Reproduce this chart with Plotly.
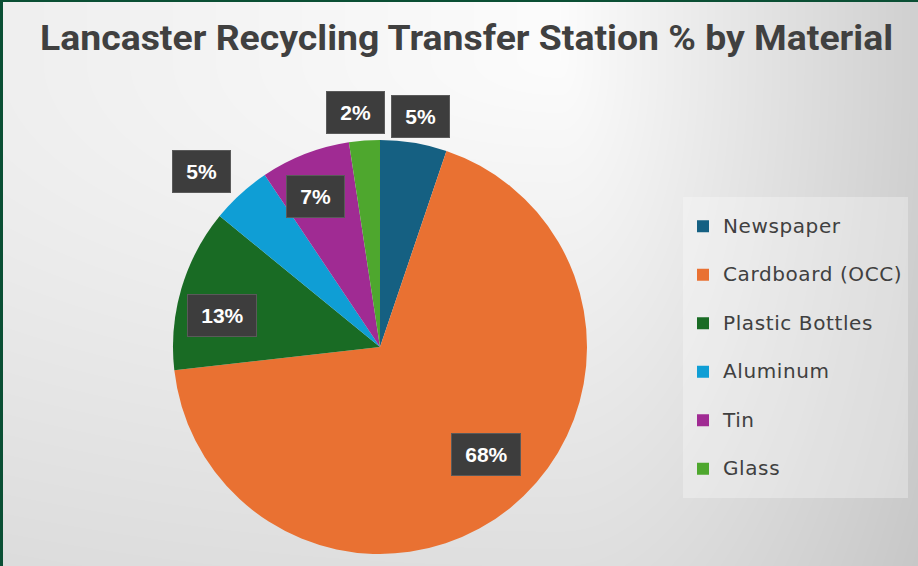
import base64, struct, zlib
import numpy as np
import plotly.graph_objects as go

# ---------------- data ----------------
categories = ["Newspaper", "Cardboard (OCC)", "Plastic Bottles", "Aluminum", "Tin", "Glass"]
shares = [5.2, 68.0, 12.7, 4.7, 7.0, 2.4]
colors = ["#156082", "#E97132", "#196B24", "#0F9ED5", "#A02B93", "#4EA72E"]
title_text = "Lancaster Recycling Transfer Station % by Material"

# ---------------- layout constants ----------------
W, H = 918, 566
CX, CY, R = 380, 347, 207          # pie centre / radius in px
label_r = [1.13, 0.73, 0.78, 1.21, 0.79, 1.14]   # label distance factors (style)
label_turn = [0.7, -5.6, -5.3, -3.2, -1.9, -1.6]  # label angular nudges in degrees (style)


def png_uri(arr):
    h, w, _ = arr.shape
    raw = b"".join(b"\x00" + arr[i].tobytes() for i in range(h))

    def chunk(t, d):
        c = struct.pack(">I", len(d)) + t + d
        return c + struct.pack(">I", zlib.crc32(t + d) & 0xFFFFFFFF)

    png = b"\x89PNG\r\n\x1a\n" + chunk(b"IHDR", struct.pack(">IIBBBBB", w, h, 8, 2, 0, 0, 0))
    png += chunk(b"IDAT", zlib.compress(raw, 9)) + chunk(b"IEND", b"")
    return "data:image/png;base64," + base64.b64encode(png).decode()


# background gradient (light spot near top centre)
yy, xx = np.mgrid[0:H, 0:W].astype(float)
dxr = np.clip((xx - 560) / 358, 0, None) * 44
dxl = np.clip((560 - xx) / 560, 0, None) * 13
dy = np.clip((yy - 60) / 506, 0, None) * 29
drop = np.sqrt((dxr + dxl) ** 2 + dy ** 2)
g = np.clip(252 - drop, 0, 255).astype(np.uint8)
bg = np.stack([g, g, g], axis=-1)

fig = go.Figure()
fig.add_trace(go.Pie(
    labels=[f"<span style='font-size:20px;letter-spacing:0.6px;baseline-shift:7px'>{c}</span>"
            for c in categories],
    values=shares,
    marker=dict(colors=colors, line=dict(width=0)),
    sort=False, direction="clockwise", rotation=0,
    textinfo="none",
    domain=dict(x=[(CX - R) / W, (CX + R) / W], y=[(H - CY - R) / H, (H - CY + R) / H]),
))

# data labels (positions derived from the shares)
total = sum(shares)
cum = 0.0
annotations = []
for v, f, turn in zip(shares, label_r, label_turn):
    mid = (cum + v / 2) / total * 2 * np.pi + np.radians(turn)
    cum += v
    px = CX + f * R * np.sin(mid)
    py = CY - f * R * np.cos(mid)
    pct = round(v / total * 100)
    annotations.append(dict(
        x=px / W, y=1 - py / H, xref="paper", yref="paper", showarrow=False,
        xanchor="center", yanchor="middle",
        text=f"\u2009{pct}%\u2009",
        font=dict(family="Liberation Sans, Arial", size=21, color="white", weight="bold"),
        bgcolor="#3d3d3d", bordercolor="#5a5a5a", borderwidth=1, borderpad=9,
    ))

annotations.append(dict(
    x=466 / W, y=1 - 38 / H, xref="paper", yref="paper", showarrow=False,
    text=title_text, xanchor="center", yanchor="middle",
    font=dict(family="Roboto, DejaVu Sans Condensed", size=35, color="#404040", weight="bold"),
))

fig.update_layout(
    width=W, height=H,
    margin=dict(l=0, r=0, t=0, b=0),
    paper_bgcolor="#d8d8d8",
    images=[dict(source=png_uri(bg), xref="paper", yref="paper", x=0, y=1, sizex=1, sizey=1,
                 sizing="stretch", layer="below", xanchor="left", yanchor="top")],
    shapes=[
        dict(type="rect", xref="paper", yref="paper", x0=0, x1=3 / W, y0=0, y1=1,
             fillcolor="#0a4f34", line=dict(width=0), layer="above"),
        dict(type="rect", xref="paper", yref="paper", x0=0, x1=1, y0=1 - 2 / H, y1=1,
             fillcolor="#0a4f34", line=dict(width=0), layer="above"),
    ],
    annotations=annotations,
    showlegend=True,
    legend=dict(
        x=683 / W, y=1 - 197 / H, xanchor="left", yanchor="top",
        bgcolor="rgba(255,255,255,0.3)",
        font=dict(family="DejaVu Sans", size=35, color="#404040"),
    ),
)

post = """
document.body.style.margin = '0';
document.body.style.padding = '0';
var gd = document.getElementById('{plot_id}');
gd.querySelectorAll('.annotation-text').forEach(function (el) {
  if (el.textContent.indexOf('Lancaster') === 0) {
    el.setAttribute('textLength', '853');
    el.setAttribute('lengthAdjust', 'spacingAndGlyphs');
  }
});
"""

fig.write_html("out.html", post_script=post, config={"displayModeBar": False})
